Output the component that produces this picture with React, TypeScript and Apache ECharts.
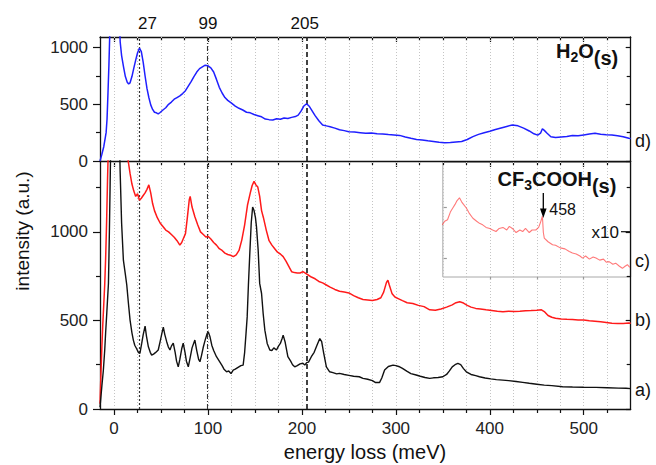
import React, { useEffect, useRef } from 'react';
import * as echarts from 'echarts';

// ---------- axis definitions ----------
const X_MIN = -15;
const X_MAX = 550;
const xMajorTicks = [0, 100, 200, 300, 400, 500];
const xMinorTicks = [25, 50, 75, 125, 150, 175, 225, 250, 275, 325, 350, 375, 425, 450, 475, 525];
const peakMarks = [27, 99, 205];
const topYMax = 1094;
const topYMajor = [0, 500, 1000];
const topYMinor = [250, 750];
const bottomYMax = 1400;
const bottomYMajor = [0, 500, 1000];
const bottomYMinor = [250, 750, 1250];
const insetXRange = [350, 550];
const insetXTicks = [400, 450, 500];
const insetYRange = [63, 287];
const insetYTicks = [100, 200];

// ---------- spectra [energy loss (meV), intensity (a.u.)] ----------
const h2oSpectrum: [number, number][] = [
  [-15, 0], [-13, 60], [-11, 126], [-9.5, 200], [-8.5, 250], [-7.5, 370], [-6.5, 600], [-5.5, 850], [-4.5, 1150],
  [-3, 1700], [-1, 2400], [1, 2600], [3, 2000], [5, 1350], [6.5, 1050], [8, 930], [10, 832], [12, 745], [14, 695],
  [15.5, 680], [17, 690], [19, 745], [21, 820], [23, 890], [25, 955], [27, 995], [29, 965], [31, 870], [33, 750],
  [35, 640], [37, 560], [39, 495], [41, 455], [43, 430], [45, 425], [47, 415], [49, 428], [52, 450], [55, 470],
  [58, 500], [61, 520], [64, 545], [67, 560], [70, 575], [73, 595], [76, 620], [79, 660], [82, 700], [85, 745],
  [88, 785], [91, 815], [94, 830], [97, 845], [100, 840], [103, 822], [106, 785], [109, 720], [112, 650], [115, 600],
  [118, 560], [121, 535], [125, 510], [129, 485], [133, 465], [137, 450], [141, 430], [145, 425], [149, 410],
  [153, 400], [157, 390], [161, 370], [165, 365], [169, 362], [173, 372], [177, 368], [181, 380], [185, 375],
  [189, 385], [193, 392], [196, 405], [199, 440], [202, 485], [205, 505], [208, 480], [211, 440], [214, 400],
  [218, 355], [222, 318], [226, 310], [230, 302], [235, 290], [240, 275], [245, 268], [250, 258], [256, 255],
  [262, 250], [268, 245], [274, 248], [280, 240], [286, 238], [292, 233], [298, 230], [304, 226], [310, 212],
  [316, 200], [322, 190], [328, 185], [334, 178], [340, 172], [346, 165], [352, 160], [358, 163], [364, 168],
  [370, 172], [376, 190], [382, 215], [388, 235], [394, 250], [400, 262], [406, 278], [412, 292], [418, 305],
  [424, 318], [430, 310], [436, 290], [442, 265], [447, 240], [451, 228], [454, 245], [456, 285], [458, 270],
  [461, 245], [465, 214], [470, 208], [476, 212], [482, 216], [488, 225], [494, 222], [500, 230], [506, 238],
  [512, 244], [518, 236], [524, 232], [530, 229], [536, 222], [542, 214], [548, 200], [550, 198],
];

const cf3SpectrumB: [number, number][] = [
  [-15, 30], [-14, 200], [-13, 350], [-12, 480], [-11, 590], [-10, 700], [-9, 850], [-8, 1050], [-7, 1290],
  [-6, 1500], [-4, 2000], [0, 2600], [5, 2200], [10, 1800], [13, 1550], [15, 1400], [17, 1330], [19, 1270],
  [21, 1230], [23, 1200], [25, 1215], [27, 1178], [29, 1190], [31, 1205], [33, 1220], [35, 1240], [37, 1265],
  [39, 1220], [41, 1160], [43, 1120], [46, 1080], [49, 1050], [52, 1030], [55, 1010], [58, 1000], [61, 985],
  [64, 970], [67, 950], [70, 925], [72, 940], [74, 965], [76, 990], [78, 1080], [80, 1180], [81, 1200], [83, 1140],
  [86, 1085], [89, 1040], [92, 1000], [95, 985], [98, 970], [100, 975], [103, 960], [106, 940], [109, 925],
  [112, 905], [115, 895], [118, 880], [121, 872], [124, 868], [127, 860], [130, 870], [133, 895], [136, 955],
  [139, 1040], [142, 1150], [145, 1220], [147, 1262], [149, 1285], [151, 1265], [153, 1253], [155, 1200],
  [157, 1120], [159, 1080], [162, 1010], [165, 950], [168, 925], [171, 905], [174, 885], [177, 875], [180, 860],
  [183, 835], [186, 805], [189, 775], [192, 770], [195, 768], [198, 768], [201, 775], [204, 765], [207, 755],
  [210, 745], [214, 735], [218, 720], [222, 712], [226, 700], [230, 688], [235, 675], [240, 665], [245, 660],
  [250, 655], [255, 640], [260, 628], [265, 618], [270, 615], [275, 612], [280, 618], [284, 628], [287, 660],
  [290, 715], [291.5, 727], [293, 700], [296, 650], [299, 632], [303, 622], [307, 612], [312, 600], [318, 596],
  [324, 585], [330, 578], [336, 560], [342, 558], [348, 565], [354, 575], [360, 588], [364, 600], [368, 605],
  [372, 598], [376, 585], [380, 575], [385, 568], [390, 565], [396, 560], [402, 556], [408, 552], [414, 549],
  [420, 552], [426, 550], [432, 552], [438, 555], [444, 556], [450, 558], [455, 560], [458, 550], [462, 528],
  [466, 518], [470, 512], [476, 508], [482, 506], [488, 505], [494, 503], [500, 502], [506, 498], [512, 496],
  [518, 492], [524, 488], [530, 484], [536, 482], [542, 483], [548, 485], [550, 484],
];

const cf3SpectrumA: [number, number][] = [
  [-15, 10], [-13, 130], [-11.4, 220], [-10, 330], [-9, 430], [-7.8, 539], [-6, 710], [-5, 1000], [-4.2, 1273],
  [-3, 1700], [0, 2600], [3, 2300], [5, 1700], [6.4, 1350], [8, 1050], [9.9, 840], [12, 760], [13.5, 700],
  [15.2, 600], [17, 502], [19, 430], [20.5, 389], [22, 360], [24, 340], [26, 318], [27.5, 314], [29.4, 370],
  [31, 420], [33, 468], [34.5, 410], [36.5, 351], [38.5, 320], [40, 304], [42, 310], [44, 318], [47, 333],
  [49, 380], [51, 430], [52.4, 462], [54, 420], [56, 380], [57.7, 351], [59.5, 333], [61, 355], [63, 372],
  [65, 320], [66.5, 270], [68.3, 238], [70, 280], [72, 340], [73.6, 372], [75.5, 320], [77, 270], [79, 238],
  [81, 290], [83, 345], [86, 389], [88, 330], [90, 280], [91.4, 267], [93, 300], [95, 350], [97, 390], [99, 425],
  [100.2, 436], [102, 410], [104, 360], [106, 330], [109, 295], [112, 270], [115, 245], [117, 225], [119.8, 210],
  [122, 215], [124.5, 200], [126.8, 220], [129, 225], [132, 235], [135, 245], [137.4, 248], [139, 320],
  [140.5, 430], [141.7, 520], [143, 700], [144.5, 880], [146, 1050], [147.5, 1140], [149, 1120], [150.5, 1080],
  [151.6, 1028], [153.4, 896], [155, 709], [157, 652], [158.7, 539], [160.5, 445], [163, 370], [165.8, 333],
  [168, 330], [170, 345], [172.9, 333], [175, 355], [177, 370], [179, 400], [180, 417], [182, 380], [185, 295],
  [188, 270], [190, 250], [192.3, 238], [195, 245], [198, 255], [201, 258], [203, 248], [205, 262], [207, 265],
  [210, 295], [213, 320], [216, 360], [219, 398], [221, 380], [223, 320], [226, 238], [229.5, 210], [233, 205],
  [237, 198], [240, 201], [245, 195], [250, 190], [255, 185], [261, 182], [265, 173], [270, 168], [275, 160],
  [278, 150], [282.7, 150], [285, 175], [288, 220], [292, 240], [297, 248], [300, 245], [303, 240], [307, 229],
  [312, 212], [316, 200], [321.6, 192], [326, 185], [331, 178], [336, 173], [340, 176], [345, 178], [350, 182],
  [354, 195], [357, 215], [360, 238], [363, 250], [366, 257], [369, 250], [372, 228], [375, 210], [380, 195],
  [385, 188], [389, 182], [395, 175], [401, 170], [407, 166], [413.7, 163], [420, 160], [428, 155], [435, 150],
  [442, 145], [450, 140], [458, 135], [466, 132], [477.5, 126], [488, 124], [500, 123], [513, 122], [525, 120],
  [537, 118], [545, 117], [550, 115],
];

// inset: spectrum c) magnified x10 (arbitrary units)
const insetSpectrum: [number, number][] = [
  [349.3, 165], [352, 172], [355, 175], [358, 190], [360.6, 198], [363, 205], [365, 212], [367.7, 218], [370, 210],
  [372, 205], [375, 198], [378, 188], [382, 178], [386, 172], [389, 168], [392.4, 165], [396, 160], [400, 158],
  [403, 155], [406.6, 152], [410, 158], [414, 160], [418, 155], [420.8, 162], [424, 158], [428, 150], [432, 155],
  [435, 152], [438, 158], [442, 150], [445, 155], [449, 155], [452, 160], [454, 170], [456, 182], [457, 150],
  [458, 139], [462, 132], [466.8, 126], [470, 125], [475, 120], [480, 118], [484.6, 113], [488, 110], [492, 108],
  [496, 104], [498.7, 100], [502, 104], [506, 98], [510, 102], [513, 100], [517, 96], [521, 98], [524, 92],
  [527, 93], [531, 88], [534, 90], [538, 84], [541.2, 80], [544, 84], [546.5, 87], [549, 82],
];

const FONT = '"Liberation Sans", Arial, Helvetica, sans-serif';
const AXIS_COLOR = '#111';

const PLOT_LEFT = 100;
const PLOT_WIDTH = 530.7;
const pxPerMeV = PLOT_WIDTH / (X_MAX - X_MIN);

function xAxisDef(gridIndex: number, position: string, ticks: number[], len: number, inside: boolean, line: boolean, labels: boolean, range = [X_MIN, X_MAX], color = AXIS_COLOR) {
  return {
    type: 'value', gridIndex, position, min: range[0], max: range[1],
    axisLine: { show: line, onZero: false, lineStyle: { color, width: 1.3 } },
    axisTick: { show: true, inside, length: len, customValues: ticks, lineStyle: { color, width: 1.2 } },
    axisLabel: labels
      ? { show: true, customValues: ticks, formatter: (v: number) => String(v), fontSize: 17, fontFamily: FONT, color: '#222', margin: 11 }
      : { show: false },
    splitLine: { show: false },
  };
}

function yAxisDef(gridIndex: number, position: string, max: number, ticks: number[], len: number, inside: boolean, line: boolean, labels: boolean, min = 0, color = AXIS_COLOR) {
  return {
    type: 'value', gridIndex, position, min, max,
    axisLine: { show: line, onZero: false, lineStyle: { color, width: 1.3 } },
    axisTick: { show: true, inside, length: len, customValues: ticks, lineStyle: { color, width: 1.2 } },
    axisLabel: labels
      ? { show: true, customValues: ticks, formatter: (v: number) => String(v), fontSize: 17, fontFamily: FONT, color: '#222', margin: 12 }
      : { show: false },
    splitLine: { show: false },
  };
}

const lightGrid = { color: '#c4c4c4', width: 1, type: [1, 2] };
const peakStyles = [
  { color: '#333', width: 1.2, type: [2, 2] },
  { color: '#333', width: 1.1, type: [5, 2, 1, 2] },
  { color: '#222', width: 1.7, type: [5, 3] },
];

function markLines() {
  const grid = [0, ...xMinorTicks, ...xMajorTicks.filter((v) => v > 0)].map((v) => ({ xAxis: v, lineStyle: lightGrid }));
  const peaks = peakMarks.map((v, i) => ({ xAxis: v, lineStyle: peakStyles[i] }));
  return {
    silent: true, symbol: ['none', 'none'], label: { show: false }, z: 1,
    emphasis: { disabled: true },
    data: [...grid, ...peaks],
  };
}

function txt(text: string, x: number, y: number, fontSize: number, opts: any = {}) {
  return {
    type: 'text', x, y, z: 100, rotation: opts.rotation || 0,
    style: {
      text, fill: opts.fill || '#111', fontSize, fontFamily: FONT, fontWeight: opts.bold ? 'bold' : 'normal',
      align: opts.align || 'center', verticalAlign: 'middle',
    },
  };
}

// chemical formula drawn as consecutive pieces (normal / lowered subscript)
function formula(parts: [string, boolean][], x0: number, capCenterY: number) {
  const main = 20;
  const sub = 14;
  const widths: Record<string, number> = { H: 0.722, O: 0.778, C: 0.722, F: 0.611, '(': 0.333, ')': 0.333, s: 0.556, '2': 0.556, '3': 0.556 };
  const out: any[] = [];
  let x = x0;
  parts.forEach(([s, isSub]) => {
    const digit = /^[0-9]+$/.test(s);
    const fs = isSub && digit ? sub : main;
    const y = isSub ? (digit ? capCenterY + 6.5 : capCenterY + 7) : capCenterY;
    out.push(txt(s, x, y, fs, { align: 'left', bold: true }));
    let w = 0;
    for (const ch of s) w += (widths[ch] ?? 0.7) * fs;
    x += w;
  });
  return out;
}

export default function App() {
  const ref = useRef<HTMLDivElement>(null);
  useEffect(() => {
    const chart = echarts.init(ref.current!, null, { renderer: 'svg' });
    const insetLeft = PLOT_LEFT + (insetXRange[0] - X_MIN) * pxPerMeV;
    const insetWidth = (insetXRange[1] - insetXRange[0]) * pxPerMeV;
    const option: any = {
      animation: false,
      backgroundColor: '#fff',
      textStyle: { fontFamily: FONT },
      grid: [
        { left: PLOT_LEFT, top: 37, width: PLOT_WIDTH, height: 124, outerBoundsMode: 'none' },
        { left: PLOT_LEFT, top: 161, width: PLOT_WIDTH, height: 248, outerBoundsMode: 'none' },
        { left: insetLeft, top: 162.5, width: insetWidth, height: 114.5, show: true, borderColor: '#a8a8a8', borderWidth: 1, backgroundColor: 'rgba(0,0,0,0)', outerBoundsMode: 'none' },
      ],
      xAxis: [
        xAxisDef(0, 'bottom', xMajorTicks, 6, false, true, false),
        xAxisDef(0, 'bottom', xMinorTicks, 4, false, false, false),
        xAxisDef(0, 'top', xMajorTicks, 5, true, true, false),
        xAxisDef(0, 'top', xMinorTicks, 3.5, true, false, false),
        xAxisDef(1, 'bottom', xMajorTicks, 6, false, true, true),
        xAxisDef(1, 'bottom', xMinorTicks, 4, false, false, false),
        xAxisDef(2, 'bottom', insetXTicks, 3, false, false, false, insetXRange, '#999'),
      ],
      yAxis: [
        yAxisDef(0, 'left', topYMax, topYMajor, 7, false, true, true),
        yAxisDef(0, 'left', topYMax, topYMinor, 4, false, false, false),
        yAxisDef(0, 'right', topYMax, topYMajor, 5, true, true, false),
        yAxisDef(0, 'right', topYMax, topYMinor, 4, true, false, false),
        yAxisDef(1, 'left', bottomYMax, bottomYMajor, 7, false, true, true),
        yAxisDef(1, 'left', bottomYMax, bottomYMinor, 4, false, false, false),
        yAxisDef(1, 'right', bottomYMax, bottomYMajor, 5, true, true, false),
        yAxisDef(1, 'right', bottomYMax, bottomYMinor, 4, true, false, false),
        yAxisDef(2, 'left', insetYRange[1], insetYTicks, 4, true, false, false, insetYRange[0], '#999'),
      ],
      series: [
        {
          name: 'd) H2O', type: 'line', xAxisIndex: 0, yAxisIndex: 0, data: h2oSpectrum,
          showSymbol: false, symbol: 'none', z: 3, lineStyle: { color: '#1f1fff', width: 1.5 },
          markLine: markLines(),
        },
        {
          name: 'b) CF3COOH', type: 'line', xAxisIndex: 4, yAxisIndex: 4, data: cf3SpectrumB,
          showSymbol: false, symbol: 'none', z: 3, lineStyle: { color: '#ff1a1a', width: 1.5 },
          markLine: markLines(),
        },
        {
          name: 'a) CF3COOH', type: 'line', xAxisIndex: 4, yAxisIndex: 4, data: cf3SpectrumA,
          showSymbol: false, symbol: 'none', z: 4, lineStyle: { color: '#111', width: 1.4 },
        },
        {
          name: 'c) x10', type: 'line', xAxisIndex: 6, yAxisIndex: 8, data: insetSpectrum,
          showSymbol: false, symbol: 'none', z: 4, lineStyle: { color: '#ff4040', width: 1.1, opacity: 0.7 },
        },
      ],
      graphic: [
        txt('27', 147.5, 23, 17),
        txt('99', 208, 23, 17),
        txt('205', 304.7, 23, 17),
        txt('intensity (a.u.)', 22, 231, 19, { rotation: Math.PI / 2 }),
        txt('energy loss (meV)', 365, 452, 20),
        txt('d)', 635, 141, 18, { align: 'left' }),
        txt('c)', 635, 261, 18, { align: 'left' }),
        txt('b)', 635, 320, 18, { align: 'left' }),
        txt('a)', 635, 390, 18, { align: 'left' }),
        ...formula([['H', false], ['2', true], ['O', false], ['(s)', true]], 556, 50.8),
        ...formula([['CF', false], ['3', true], ['COOH', false], ['(s)', true]], 497.5, 178.7),
        txt('458', 549.3, 209.3, 16, { align: 'left' }),
        txt('x10', 619, 232.3, 17, { align: 'right' }),
        { type: 'line', z: 100, shape: { x1: 543.3, y1: 193, x2: 543.3, y2: 210 }, style: { stroke: '#000', lineWidth: 1.3 } },
        { type: 'polygon', z: 100, shape: { points: [[540, 208.5], [546.6, 208.5], [543.3, 218]] }, style: { fill: '#000' } },
        { type: 'line', z: 100, shape: { x1: 621, y1: 231.7, x2: 630.7, y2: 231.7 }, style: { stroke: '#111', lineWidth: 1.2 } },
      ],
    };
    chart.setOption(option);
    return () => chart.dispose();
  }, []);
  return (
    <div
      ref={ref}
      style={{ position: 'fixed', left: 0, top: 0, width: 656, height: 465, background: '#fff' }}
    />
  );
}
